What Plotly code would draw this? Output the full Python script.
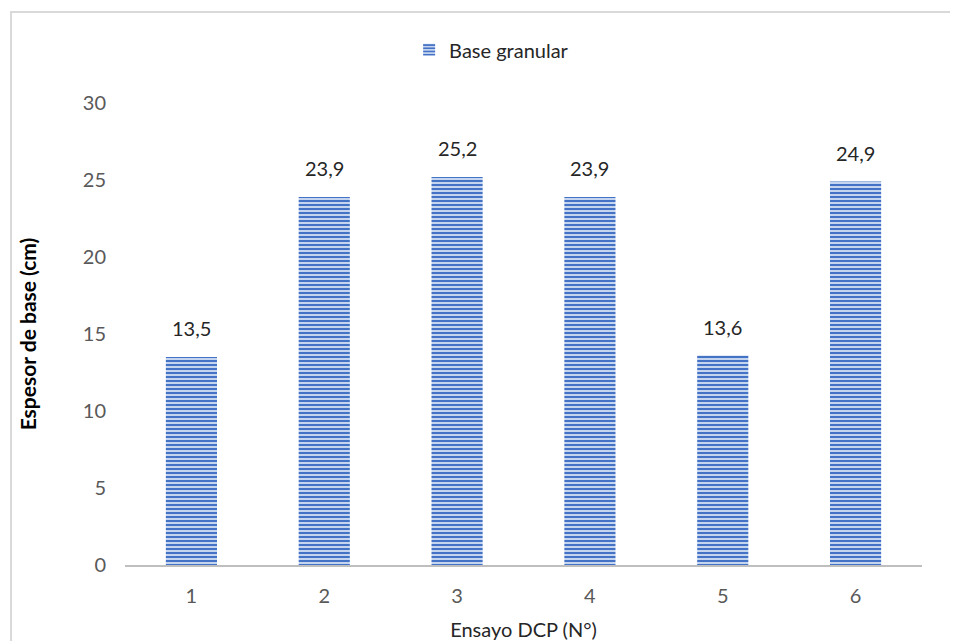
import plotly.graph_objects as go

categories = ["1", "2", "3", "4", "5", "6"]
values = [13.5, 23.9, 25.2, 23.9, 13.6, 24.9]
labels = ["13,5", "23,9", "25,2", "23,9", "13,6", "24,9"]
series_name = "Base granular"
y_ticks = [0, 5, 10, 15, 20, 25, 30]

FONT = "Lato"

fig = go.Figure()
fig.add_trace(go.Bar(
    x=categories, y=values, name=series_name,
    marker=dict(
        color="#C9D7F0",
        line=dict(width=0),
        pattern=dict(shape="-", fgcolor="#4472C4", bgcolor="#D3DFF4",
                     size=4, solidity=0.55, fillmode="replace"),
    ),
    showlegend=True,
))

# category axis: annotation x given as category index
for i, (v, t) in enumerate(zip(values, labels)):
    fig.add_annotation(x=i, y=v, text=t, showarrow=False, yanchor="bottom",
                       yshift=15, font=dict(family=FONT, size=20, color="#262626"))

fig.add_shape(type="rect", xref="paper", yref="paper",
              x0=-0.143, y0=-0.3, x1=1.2, y1=1.197,
              line=dict(color="#D9D9D9", width=2), layer="below")

fig.update_layout(
    width=950, height=633,
    margin=dict(l=117, r=36, t=95, b=76),
    paper_bgcolor="white", plot_bgcolor="white",
    bargap=0.615,
    font=dict(family=FONT, size=20, color="#595959"),
    legend=dict(orientation="h", x=0.46, xanchor="center", y=1.115, yanchor="middle",
                font=dict(family=FONT, size=20, color="#262626")),
    xaxis=dict(
        type="category", range=[-0.5, len(categories) - 0.5],
        showline=True, linecolor="#BFBFBF", linewidth=2,
        showgrid=False, ticks="", ticklabelstandoff=12,
        tickfont=dict(family=FONT, size=20, color="#595959"),
        title=dict(text="Ensayo DCP (N°)", standoff=20,
                   font=dict(family=FONT, size=20, color="#262626")),
        automargin=False,
    ),
    yaxis=dict(
        range=[0, 30], tickvals=y_ticks, showgrid=False, zeroline=False,
        showline=False, ticks="", ticklabelstandoff=18,
        tickfont=dict(family=FONT, size=20, color="#595959"),
        title=dict(text="<b>Espesor de base (cm)</b>", standoff=40,
                   font=dict(family=FONT, size=21, color="#000000")),
        automargin=False,
    ),
)

fig.write_html("out.html")
